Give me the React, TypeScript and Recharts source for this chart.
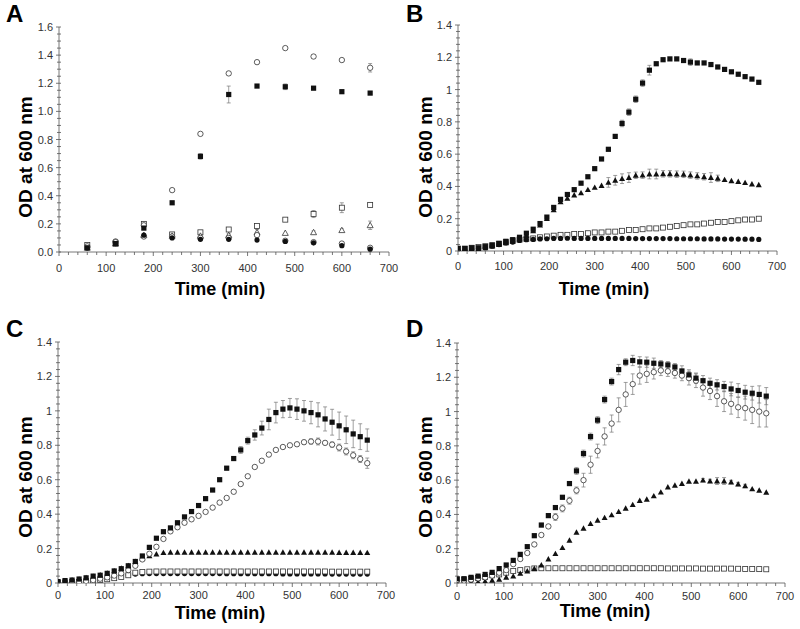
import React from 'react';
import { ScatterChart, Scatter, XAxis, YAxis, ErrorBar } from 'recharts';

const FONT = '"Liberation Sans", Arial, Helvetica, sans-serif';

// sampling times (min)
const timesA = [60, 120, 180, 240, 300, 360, 420, 480, 540, 600, 660];
const times15 = [
  0, 15, 30, 45, 60, 75, 90, 105, 120, 135, 150, 165, 180, 195, 210,
  225, 240, 255, 270, 285, 300, 315, 330, 345, 360, 375, 390, 405, 420, 435,
  450, 465, 480, 495, 510, 525, 540, 555, 570, 585, 600, 615, 630, 645, 660,
];

const xMajor = [0, 100, 200, 300, 400, 500, 600, 700];
const yMajorA = [0, 0.2, 0.4, 0.6, 0.8, 1.0, 1.2, 1.4, 1.6];
const yMajor = [0, 0.2, 0.4, 0.6, 0.8, 1.0, 1.2, 1.4];

// ---- panel A ----
const aFilledSquare = [0.03, 0.06, 0.17, 0.35, 0.68, 1.12, 1.18, 1.175, 1.165, 1.14, 1.13];
const aFilledSquareErr = [0, 0, 0.01, 0.01, 0.02, 0.06, 0.01, 0.02, 0.01, 0.01, 0.01];
const aOpenCircleHigh = [0.04, 0.07, 0.19, 0.44, 0.84, 1.27, 1.35, 1.45, 1.39, 1.365, 1.31];
const aOpenCircleHighErr = [0, 0, 0, 0.01, 0, 0.01, 0, 0, 0.01, 0.01, 0.03];
const aOpenSquare = [0.05, 0.06, 0.2, 0.125, 0.14, 0.16, 0.185, 0.23, 0.27, 0.315, 0.335];
const aOpenSquareErr = [0, 0, 0, 0, 0, 0, 0, 0.01, 0.025, 0.035, 0];
const aOpenTriangle = [0.03, 0.06, 0.12, 0.115, 0.115, 0.12, 0.14, 0.135, 0.14, 0.155, 0.19];
const aOpenTriangleErr = [0, 0, 0, 0, 0, 0.01, 0.02, 0, 0.01, 0.01, 0.03];
const aOpenCircleLow = [0.03, 0.075, 0.11, 0.11, 0.1, 0.1, 0.12, 0.08, 0.07, 0.06, 0.03];
const aFilledCircle = [0.03, 0.06, 0.12, 0.1, 0.09, 0.09, 0.085, 0.075, 0.065, 0.045, 0.02];

// ---- panel B ----
const bFilledSquare = [
  0.015, 0.015, 0.02, 0.02, 0.027, 0.037, 0.047, 0.06, 0.07, 0.085, 0.11, 0.135, 0.17, 0.21, 0.27,
  0.32, 0.35, 0.38, 0.42, 0.46, 0.51, 0.57, 0.63, 0.71, 0.79, 0.86, 0.94, 1.04, 1.12, 1.16,
  1.185, 1.19, 1.19, 1.18, 1.17, 1.165, 1.165, 1.155, 1.14, 1.125, 1.11, 1.095, 1.08, 1.065, 1.045,
];
const bFilledSquareErr = [
  0, 0, 0, 0, 0, 0, 0, 0, 0, 0, 0, 0, 0, 0, 0,
  0, 0, 0, 0, 0, 0, 0, 0, 0.01, 0.02, 0.02, 0.02, 0.02, 0.03, 0.01,
  0, 0, 0, 0, 0.02, 0, 0, 0, 0, 0, 0, 0, 0, 0, 0,
];
const bFilledTriangle = [
  0.005, 0.005, 0.01, 0.015, 0.02, 0.03, 0.04, 0.05, 0.06, 0.075, 0.095, 0.125, 0.16, 0.2, 0.255,
  0.305, 0.326, 0.347, 0.36, 0.38, 0.394, 0.405, 0.425, 0.438, 0.448, 0.455, 0.469, 0.47, 0.477, 0.477,
  0.478, 0.478, 0.476, 0.475, 0.47, 0.465, 0.46, 0.455, 0.45, 0.442, 0.435, 0.43, 0.423, 0.415, 0.41,
];
const bFilledTriangleErr = [
  0, 0, 0, 0, 0, 0, 0, 0, 0, 0, 0, 0, 0, 0, 0,
  0, 0, 0, 0, 0, 0, 0, 0.03, 0.03, 0.03, 0.03, 0.02, 0.02, 0.03, 0.03,
  0.02, 0.02, 0.02, 0.02, 0.02, 0.02, 0.02, 0.03, 0.02, 0, 0, 0, 0, 0, 0,
];
const bOpenSquare = [
  0.015, 0.015, 0.02, 0.025, 0.03, 0.035, 0.045, 0.055, 0.065, 0.07, 0.075, 0.078, 0.085, 0.09, 0.095,
  0.1, 0.1, 0.105, 0.105, 0.11, 0.115, 0.115, 0.12, 0.12, 0.125, 0.13, 0.13, 0.135, 0.14, 0.14,
  0.145, 0.15, 0.155, 0.16, 0.165, 0.165, 0.17, 0.175, 0.18, 0.18, 0.185, 0.19, 0.195, 0.195, 0.2,
];
const bFilledCircle = [
  0.005, 0.005, 0.01, 0.015, 0.02, 0.03, 0.04, 0.05, 0.055, 0.065, 0.07, 0.072, 0.075, 0.076, 0.078,
  0.078, 0.079, 0.078, 0.078, 0.078, 0.078, 0.078, 0.078, 0.078, 0.078, 0.078, 0.077, 0.077, 0.077, 0.077,
  0.077, 0.077, 0.076, 0.076, 0.076, 0.076, 0.075, 0.075, 0.075, 0.074, 0.074, 0.074, 0.073, 0.073, 0.072,
];

// ---- panel C ----
const cFilledSquare = [
  0.008, 0.014, 0.017, 0.023, 0.03, 0.04, 0.045, 0.056, 0.07, 0.083, 0.1, 0.125, 0.157, 0.207, 0.26,
  0.298, 0.32, 0.35, 0.384, 0.415, 0.45, 0.49, 0.54, 0.6, 0.667, 0.723, 0.773, 0.827, 0.86, 0.9,
  0.95, 0.99, 1.01, 1.017, 1.01, 1.0, 0.99, 0.977, 0.953, 0.934, 0.913, 0.89, 0.866, 0.85, 0.83,
];
const cFilledSquareErr = [
  0, 0, 0, 0, 0, 0, 0, 0, 0, 0, 0, 0, 0, 0, 0,
  0, 0, 0, 0, 0, 0, 0, 0, 0, 0.01, 0.01, 0.02, 0.02, 0.03, 0.04,
  0.06, 0.06, 0.05, 0.055, 0.06, 0.06, 0.065, 0.07, 0.07, 0.075, 0.08, 0.08, 0.08, 0.075, 0.065,
];
const cOpenCircle = [
  0.002, 0.004, 0.006, 0.008, 0.012, 0.017, 0.025, 0.033, 0.043, 0.056, 0.075, 0.1, 0.137, 0.17, 0.21,
  0.256, 0.3, 0.324, 0.35, 0.37, 0.39, 0.413, 0.438, 0.467, 0.494, 0.53, 0.575, 0.62, 0.674, 0.71,
  0.746, 0.773, 0.79, 0.8, 0.806, 0.818, 0.822, 0.822, 0.814, 0.804, 0.787, 0.764, 0.742, 0.72, 0.696,
];
const cOpenCircleErr = [
  0, 0, 0, 0, 0, 0, 0, 0, 0, 0, 0, 0, 0, 0, 0,
  0, 0, 0, 0, 0, 0, 0, 0, 0, 0, 0, 0, 0, 0, 0,
  0, 0, 0, 0, 0, 0.01, 0.015, 0.02, 0.01, 0.015, 0.02, 0.02, 0.02, 0.02, 0.03,
];
const cFilledTriangle = [
  0.005, 0.012, 0.017, 0.022, 0.03, 0.038, 0.047, 0.057, 0.07, 0.085, 0.1, 0.125, 0.145, 0.157, 0.168,
  0.176, 0.178, 0.178, 0.178, 0.178, 0.178, 0.178, 0.178, 0.178, 0.178, 0.178, 0.178, 0.178, 0.178, 0.178,
  0.178, 0.178, 0.178, 0.178, 0.178, 0.178, 0.178, 0.178, 0.178, 0.178, 0.177, 0.177, 0.177, 0.177, 0.176,
];
const cOpenSquare = [
  0.002, 0.003, 0.005, 0.007, 0.01, 0.013, 0.017, 0.022, 0.028, 0.035, 0.045, 0.06, 0.064, 0.066, 0.067,
  0.067, 0.067, 0.067, 0.067, 0.067, 0.067, 0.067, 0.067, 0.067, 0.067, 0.067, 0.067, 0.067, 0.067, 0.067,
  0.067, 0.067, 0.067, 0.067, 0.067, 0.067, 0.067, 0.067, 0.067, 0.066, 0.066, 0.066, 0.066, 0.066, 0.066,
];
const cFilledCircle = [
  0.003, 0.006, 0.009, 0.012, 0.016, 0.02, 0.025, 0.03, 0.036, 0.042, 0.048, 0.052, 0.054, 0.055, 0.055,
  0.055, 0.055, 0.055, 0.055, 0.055, 0.055, 0.055, 0.055, 0.055, 0.054, 0.054, 0.054, 0.054, 0.054, 0.054,
  0.054, 0.054, 0.053, 0.053, 0.053, 0.053, 0.053, 0.053, 0.053, 0.052, 0.052, 0.052, 0.052, 0.052, 0.052,
];

// ---- panel D ----
const dFilledSquare = [
  0.025, 0.025, 0.033, 0.04, 0.05, 0.062, 0.084, 0.105, 0.132, 0.167, 0.212, 0.276, 0.338, 0.393, 0.44,
  0.5, 0.58, 0.654, 0.755, 0.854, 0.95, 1.07, 1.175, 1.245, 1.288, 1.298, 1.29, 1.288, 1.282, 1.278,
  1.272, 1.26, 1.237, 1.214, 1.195, 1.18, 1.165, 1.156, 1.146, 1.132, 1.123, 1.113, 1.107, 1.1, 1.09,
];
const dFilledSquareErr = [
  0, 0, 0, 0, 0, 0, 0, 0, 0, 0, 0, 0, 0.01, 0.01, 0.01,
  0.01, 0.01, 0.02, 0.02, 0.02, 0.02, 0.02, 0.02, 0.03, 0.02, 0.03, 0.03, 0.03, 0.03, 0.02,
  0.02, 0.02, 0.03, 0.03, 0.03, 0.03, 0.03, 0.03, 0.03, 0.04, 0.04, 0.04, 0.04, 0.05, 0.05,
];
const dOpenCircle = [
  0.018, 0.014, 0.02, 0.027, 0.033, 0.043, 0.06, 0.075, 0.11, 0.14, 0.175, 0.225, 0.28, 0.33, 0.385,
  0.435, 0.48, 0.54, 0.6, 0.69, 0.77, 0.855, 0.93, 1.01, 1.1, 1.16, 1.21, 1.22, 1.23, 1.24,
  1.235, 1.225, 1.21, 1.195, 1.18, 1.14, 1.12, 1.09, 1.06, 1.045, 1.025, 1.02, 1.01, 1.0, 0.99,
];
const dOpenCircleErr = [
  0, 0, 0, 0, 0, 0, 0, 0, 0, 0, 0, 0, 0, 0.01, 0.02,
  0.02, 0.02, 0.02, 0.04, 0.05, 0.04, 0.05, 0.05, 0.07, 0.07, 0.06, 0.05, 0.05, 0.04, 0.03,
  0.03, 0.03, 0.03, 0.04, 0.04, 0.05, 0.05, 0.06, 0.06, 0.06, 0.06, 0.07, 0.08, 0.09, 0.08,
];
const dFilledTriangle = [
  0, 0, 0.002, 0.006, 0.01, 0.016, 0.021, 0.033, 0.04, 0.056, 0.07, 0.084, 0.105, 0.14, 0.171,
  0.206, 0.249, 0.296, 0.319, 0.346, 0.366, 0.381, 0.397, 0.416, 0.436, 0.457, 0.481, 0.488, 0.508, 0.53,
  0.56, 0.57, 0.58, 0.593, 0.593, 0.6, 0.595, 0.595, 0.595, 0.589, 0.577, 0.566, 0.549, 0.541, 0.529,
];
const dFilledTriangleErr = [
  0, 0, 0, 0, 0, 0, 0, 0, 0, 0, 0, 0, 0, 0, 0,
  0, 0, 0, 0, 0, 0, 0, 0, 0, 0, 0, 0, 0, 0, 0,
  0, 0, 0, 0, 0, 0.01, 0.01, 0.02, 0.02, 0.01, 0.01, 0.01, 0, 0, 0,
];
const dOpenSquare = [
  0.02, 0.02, 0.025, 0.03, 0.035, 0.045, 0.05, 0.06, 0.07, 0.075, 0.08, 0.085, 0.086, 0.086, 0.086,
  0.086, 0.086, 0.086, 0.086, 0.086, 0.086, 0.086, 0.086, 0.086, 0.086, 0.086, 0.086, 0.086, 0.086, 0.086,
  0.085, 0.085, 0.085, 0.085, 0.085, 0.084, 0.084, 0.084, 0.084, 0.084, 0.083, 0.082, 0.082, 0.081, 0.08,
];

type Kind = 'fsq' | 'osq' | 'fci' | 'oci' | 'ftr' | 'otr';

const toPoints = (ts: number[], vs: number[], es?: number[]) =>
  ts.map((t, i) => ({ t, v: vs[i], e: es ? es[i] : 0 }));

function Marker({ cx, cy, kind }: { cx?: number; cy?: number; kind: Kind }) {
  if (cx == null || cy == null) return null;
  const ink = '#111';
  switch (kind) {
    case 'fsq':
      return <rect x={cx - 2.6} y={cy - 2.6} width={5.2} height={5.2} fill={ink} />;
    case 'osq':
      return <rect x={cx - 2.5} y={cy - 2.5} width={5} height={5} fill="#fff" stroke="#333" strokeWidth={0.8} />;
    case 'fci':
      return <circle cx={cx} cy={cy} r={2.6} fill={ink} />;
    case 'oci':
      return <circle cx={cx} cy={cy} r={2.7} fill="#fff" stroke="#333" strokeWidth={0.8} />;
    case 'ftr':
      return <polygon points={`${cx},${cy - 3} ${cx - 3},${cy + 2.4} ${cx + 3},${cy + 2.4}`} fill={ink} />;
    case 'otr':
      return (
        <polygon
          points={`${cx},${cy - 3} ${cx - 3},${cy + 2.4} ${cx + 3},${cy + 2.4}`}
          fill="#fff"
          stroke="#333"
          strokeWidth={0.8}
        />
      );
  }
  return null;
}

interface Series {
  name: string;
  kind: Kind;
  times: number[];
  values: number[];
  errors?: number[];
}

interface PanelCfg {
  letter: string;
  left: number;
  top: number;
  height: number;
  plotLeft: number;
  plotRight: number;
  plotTop: number;
  plotBottom: number;
  yMax: number;
  yMajors: number[];
  yMinorDiv: number;
  yDecimals: boolean;
  xLabelDy: number;
  titleX: number;
  titleY: number;
  yTitleY: number;
  series: Series[];
}

const round = (v: number) => Math.round(v * 10000) / 10000;

function withMinors(majors: number[], div: number) {
  const out: number[] = [];
  for (let i = 0; i < majors.length - 1; i++) {
    const step = (majors[i + 1] - majors[i]) / div;
    for (let k = 0; k < div; k++) out.push(round(majors[i] + k * step));
  }
  out.push(majors[majors.length - 1]);
  return out;
}

const isMajor = (v: number, majors: number[]) => majors.some((m) => Math.abs(m - v) < 1e-6);

function Panel({ cfg }: { cfg: PanelCfg }) {
  const W = 400;
  const xTicks = withMinors(xMajor, 5);
  const yTicks = withMinors(cfg.yMajors, cfg.yMinorDiv);
  const axisColor = '#555';
  const XTick = (p: any) => {
    const v = p.payload.value;
    const major = isMajor(v, xMajor);
    return (
      <g>
        <line x1={p.x} x2={p.x} y1={p.y} y2={p.y + (major ? 4 : 3)} stroke={axisColor} strokeWidth={0.8} />
        {major && (
          <text x={p.x} y={p.y + cfg.xLabelDy} textAnchor="middle" fontSize={11} fill="#333" fontFamily={FONT}>
            {v}
          </text>
        )}
      </g>
    );
  };
  const YTick = (p: any) => {
    const v = p.payload.value;
    const major = isMajor(v, cfg.yMajors);
    const label = cfg.yDecimals ? v.toFixed(1) : String(round(v));
    return (
      <g>
        <line x1={p.x - (major ? 3 : 2)} x2={p.x + 2} y1={p.y} y2={p.y} stroke={axisColor} strokeWidth={0.8} />
        {major && (
          <text x={p.x - 6} y={p.y + 4} textAnchor="end" fontSize={11} fill="#333" fontFamily={FONT}>
            {label}
          </text>
        )}
      </g>
    );
  };
  const xAxisH = 30;
  return (
    <div style={{ position: 'absolute', left: cfg.left, top: cfg.top, width: W, height: cfg.height }}>
      <ScatterChart
        width={W}
        height={cfg.height}
        margin={{ top: cfg.plotTop, right: W - cfg.plotRight, bottom: cfg.height - cfg.plotBottom - xAxisH, left: 0 }}
      >
        <XAxis
          type="number"
          dataKey="t"
          domain={[0, 700]}
          ticks={xTicks}
          interval={0}
          height={xAxisH}
          tickSize={0}
          tickMargin={0}
          tickLine={false}
          axisLine={{ stroke: axisColor, strokeWidth: 0.8 }}
          tick={XTick}
          allowDataOverflow
        />
        <YAxis
          type="number"
          dataKey="v"
          domain={[0, cfg.yMax]}
          ticks={yTicks}
          interval={0}
          width={cfg.plotLeft}
          tickSize={0}
          tickMargin={0}
          tickLine={false}
          axisLine={{ stroke: axisColor, strokeWidth: 0.8 }}
          tick={YTick}
          allowDataOverflow
        />
        {cfg.series.map((s) => (
          <Scatter
            key={s.name}
            name={s.name}
            data={toPoints(s.times, s.values, s.errors)}
            isAnimationActive={false}
            shape={(p: any) => <Marker cx={p.cx} cy={p.cy} kind={s.kind} />}
          >
            {s.errors && <ErrorBar dataKey="e" direction="y" width={2} stroke="#777" strokeWidth={0.7} />}
          </Scatter>
        ))}
      </ScatterChart>
      <svg width={W} height={cfg.height} style={{ position: 'absolute', left: 0, top: 0, pointerEvents: 'none' }}>
        <text x={6} y={22} fontSize={24} fontWeight="bold" fontFamily={FONT} fill="#000">
          {cfg.letter}
        </text>
        <text
          x={25}
          y={cfg.yTitleY}
          transform={`rotate(-90 25 ${cfg.yTitleY})`}
          textAnchor="middle"
          dominantBaseline="central"
          fontSize={19}
          fontWeight="bold"
          fontFamily={FONT}
          fill="#000"
        >
          OD at 600 nm
        </text>
        <text x={cfg.titleX} y={cfg.titleY} textAnchor="middle" fontSize={18} fontWeight="bold" fontFamily={FONT} fill="#000">
          Time (min)
        </text>
      </svg>
    </div>
  );
}

const panels: PanelCfg[] = [
  {
    letter: 'A', left: 0, top: 0, height: 315,
    plotLeft: 59, plotRight: 389, plotTop: 27, plotBottom: 252,
    yMax: 1.6, yMajors: yMajorA, yMinorDiv: 4, yDecimals: true,
    xLabelDy: 20, titleX: 220, titleY: 295, yTitleY: 157,
    series: [
      { name: 'A-open-square', kind: 'osq', times: timesA, values: aOpenSquare, errors: aOpenSquareErr },
      { name: 'A-open-triangle', kind: 'otr', times: timesA, values: aOpenTriangle, errors: aOpenTriangleErr },
      { name: 'A-open-circle-low', kind: 'oci', times: timesA, values: aOpenCircleLow },
      { name: 'A-filled-circle', kind: 'fci', times: timesA, values: aFilledCircle },
      { name: 'A-open-circle-high', kind: 'oci', times: timesA, values: aOpenCircleHigh, errors: aOpenCircleHighErr },
      { name: 'A-filled-square', kind: 'fsq', times: timesA, values: aFilledSquare, errors: aFilledSquareErr },
    ],
  },
  {
    letter: 'B', left: 400, top: 0, height: 315,
    plotLeft: 58, plotRight: 377, plotTop: 25, plotBottom: 251,
    yMax: 1.4, yMajors: yMajor, yMinorDiv: 5, yDecimals: false,
    xLabelDy: 19, titleX: 204, titleY: 295, yTitleY: 157,
    series: [
      { name: 'B-open-square', kind: 'osq', times: times15, values: bOpenSquare },
      { name: 'B-filled-circle', kind: 'fci', times: times15, values: bFilledCircle },
      { name: 'B-filled-triangle', kind: 'ftr', times: times15, values: bFilledTriangle, errors: bFilledTriangleErr },
      { name: 'B-filled-square', kind: 'fsq', times: times15, values: bFilledSquare, errors: bFilledSquareErr },
    ],
  },
  {
    letter: 'C', left: 0, top: 315, height: 314,
    plotLeft: 58, plotRight: 386, plotTop: 27, plotBottom: 268,
    yMax: 1.4, yMajors: yMajor, yMinorDiv: 5, yDecimals: false,
    xLabelDy: 16, titleX: 220, titleY: 304, yTitleY: 162,
    series: [
      { name: 'C-filled-circle', kind: 'fci', times: times15, values: cFilledCircle },
      { name: 'C-open-square', kind: 'osq', times: times15, values: cOpenSquare },
      { name: 'C-filled-triangle', kind: 'ftr', times: times15, values: cFilledTriangle },
      { name: 'C-open-circle', kind: 'oci', times: times15, values: cOpenCircle, errors: cOpenCircleErr },
      { name: 'C-filled-square', kind: 'fsq', times: times15, values: cFilledSquare, errors: cFilledSquareErr },
    ],
  },
  {
    letter: 'D', left: 400, top: 315, height: 314,
    plotLeft: 57, plotRight: 385, plotTop: 28, plotBottom: 268,
    yMax: 1.4, yMajors: yMajor, yMinorDiv: 5, yDecimals: false,
    xLabelDy: 17, titleX: 205, titleY: 302, yTitleY: 162,
    series: [
      { name: 'D-open-square', kind: 'osq', times: times15, values: dOpenSquare },
      { name: 'D-filled-triangle', kind: 'ftr', times: times15, values: dFilledTriangle, errors: dFilledTriangleErr },
      { name: 'D-open-circle', kind: 'oci', times: times15, values: dOpenCircle, errors: dOpenCircleErr },
      { name: 'D-filled-square', kind: 'fsq', times: times15, values: dFilledSquare, errors: dFilledSquareErr },
    ],
  },
];

export default function App() {
  return (
    <div style={{ position: 'absolute', left: 0, top: 0, width: 800, height: 629, background: '#fff', overflow: 'hidden' }}>
      {panels.map((p) => (
        <Panel key={p.letter} cfg={p} />
      ))}
    </div>
  );
}
